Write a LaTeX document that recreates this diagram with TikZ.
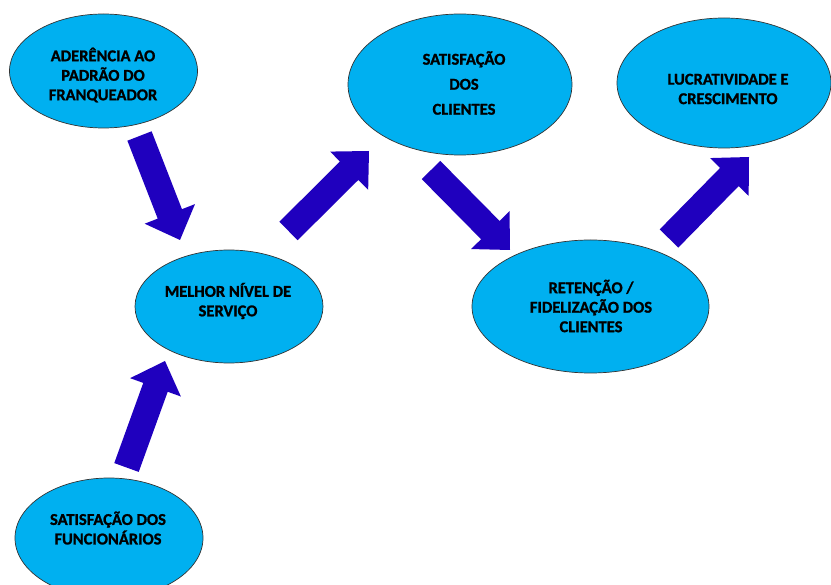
\documentclass[tikz,border=0pt]{standalone}
\usepackage{fontspec}
\setmainfont{Carlito}[BoldFont={Carlito Bold},BoldFeatures={FakeBold=1.2}]
\usetikzlibrary{shapes.geometric,calc}
\definecolor{ellfill}{RGB}{0,176,240}
\definecolor{arrcol}{RGB}{31,0,190}
\newcommand\blockarrow[2]{%
  \coordinate (#1c) at ($(#2)!28pt!(#1)$);
  \fill[arrcol] ($(#1)!13pt!90:(#2)$) -- ($(#1c)!13pt!90:(#2)$) -- ($(#1c)!27pt!90:(#2)$)
    -- (#2) -- ($(#1c)!27pt!-90:(#2)$) -- ($(#1c)!13pt!-90:(#2)$) -- ($(#1)!13pt!-90:(#2)$) -- cycle;}
\begin{document}
\begin{tikzpicture}[x=1pt,y=-1pt,
  ell/.style={ellipse,draw=black!80,line width=0.7pt,fill=ellfill,inner sep=0pt},
  txt/.style={align=center,font=\fontsize{16.5}{19.5}\selectfont\bfseries,inner sep=0pt}]
\useasboundingbox (0,0) rectangle (831,585);
\clip (0,0) rectangle (831,585);
% ellipses
\node[ell,minimum width=188pt,minimum height=114pt] (e1) at (103.5,71) {};
\node[ell,minimum width=188pt,minimum height=113pt] (e2) at (229,306.5) {};
\node[ell,minimum width=188pt,minimum height=120pt] (e3) at (109,538) {};
\node[ell,minimum width=224pt,minimum height=141pt] (e4) at (460,84.5) {};
\node[ell,minimum width=214pt,minimum height=130pt] (e5) at (724,83) {};
\node[ell,minimum width=237pt,minimum height=133pt] (e6) at (590.5,306.5) {};
% texts
\node[txt] (t1) at (103,75) {ADERÊNCIA AO\\PADRÃO DO\\FRANQUEADOR};
\node[txt] (t2) at (228,301) {MELHOR NÍVEL DE\\SERVIÇO};
\node[txt] (t3) at (108,528) {SATISFAÇÃO DOS\\FUNCIONÁRIOS};
\node[txt,font=\fontsize{16.5}{25}\selectfont\bfseries] (t4) at (464,83) {SATISFAÇÃO\\DOS\\CLIENTES};
\node[txt] (t5) at (728,89) {LUCRATIVIDADE E\\CRESCIMENTO};
\node[txt] (t6) at (591,306) {RETENÇÃO /\\FIDELIZAÇÃO DOS\\CLIENTES};
% arrows
\coordinate (a1) at (139.5,136); \coordinate (b1) at (180,240);
\coordinate (a2) at (288.5,231); \coordinate (b2) at (369,151);
\coordinate (a3) at (431,170);   \coordinate (b3) at (510,250);
\coordinate (a4) at (669,238.5); \coordinate (b4) at (749,157);
\coordinate (a5) at (126.5,467.5); \coordinate (b5) at (165,361);
\blockarrow{a1}{b1}
\blockarrow{a2}{b2}
\blockarrow{a3}{b3}
\blockarrow{a4}{b4}
\blockarrow{a5}{b5}
\end{tikzpicture}
\end{document}
